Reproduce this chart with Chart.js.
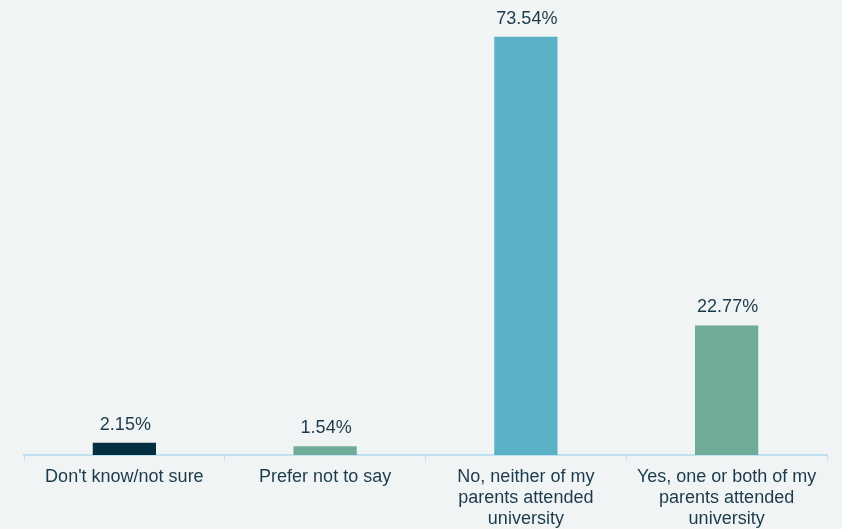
<!DOCTYPE html>
<html>
<head>
<meta charset="utf-8">
<script src="https://cdn.jsdelivr.net/npm/chart.js@4"></script>
<style>
  html, body { margin: 0; padding: 0; background: #f0f4f5; }
  #wrap { width: 842px; height: 529px; }
</style>
</head>
<body>
<div id="wrap"><canvas id="chart" width="842" height="529"></canvas></div>
<script>
const categories = [
  "Don't know/not sure",
  ["Prefer not to say"],
  ["No, neither of my", "parents attended", "university"],
  ["Yes, one or both of my", "parents attended", "university"],
];
const shares = [2.15, 1.54, 73.54, 22.77];
const barColors = ["#032f41", "#6fab96", "#5ab1c6", "#6fab96"];

const textColor = "#1b3a4b";
const axisColor = "#bfe1f2";

// draws the percentage above each bar
const valueLabels = {
  id: "valueLabels",
  afterDatasetsDraw(chart) {
    const ctx = chart.ctx;
    const meta = chart.getDatasetMeta(0);
    ctx.save();
    ctx.font = "18px 'Liberation Sans', Arial, sans-serif";
    ctx.fillStyle = textColor;
    ctx.textAlign = "center";
    ctx.textBaseline = "bottom";
    meta.data.forEach((bar, i) => {
      ctx.fillText(shares[i].toFixed(2) + "%", bar.x + 1, bar.y - 9);
    });
    ctx.restore();
  },
};

new Chart(document.getElementById("chart"), {
  type: "bar",
  data: {
    labels: categories,
    datasets: [{
      data: shares,
      backgroundColor: barColors,
      barPercentage: 0.315,
      categoryPercentage: 1,
    }],
  },
  options: {
    responsive: false,
    animation: false,
    layout: { padding: { left: 24, right: 15, top: 0, bottom: 0 } },
    plugins: {
      legend: { display: false },
      tooltip: { enabled: false },
    },
    scales: {
      x: {
        afterFit(axis) { axis.height = 74; },
        grid: {
          display: true,
          drawOnChartArea: false,
          color: axisColor,
          tickLength: 6,
          offset: true,
        },
        border: { color: axisColor, width: 2 },
        ticks: {
          color: textColor,
          font: { family: "'Liberation Sans', Arial, sans-serif", size: 18, lineHeight: 1.15 },
          padding: 6,
          maxRotation: 0,
          autoSkip: false,
        },
      },
      y: {
        display: false,
        min: 0,
        max: 80,
      },
    },
  },
  plugins: [valueLabels],
});
</script>
</body>
</html>
